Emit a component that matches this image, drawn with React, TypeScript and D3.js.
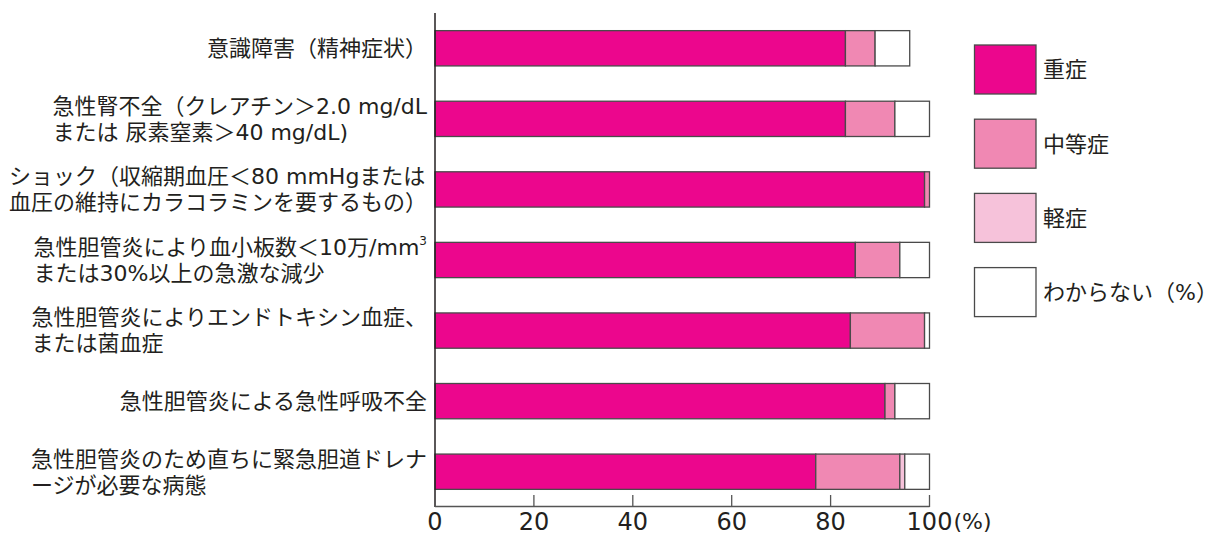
import React, { useEffect, useRef } from "react";
import * as d3 from "d3";

// Items (each label line list), top to bottom
const categories: string[][] = [
  ["意識障害（精神症状）"],
  ["急性腎不全（クレアチン＞2.0 mg/dL", "または 尿素窒素＞40 mg/dL)"],
  ["ショック（収縮期血圧＜80 mmHgまたは", "血圧の維持にカラコラミンを要するもの）"],
  ["急性胆管炎により血小板数＜10万/mm^3", "または30%以上の急激な減少"],
  ["急性胆管炎によりエンドトキシン血症、", "または菌血症"],
  ["急性胆管炎による急性呼吸不全"],
  ["急性胆管炎のため直ちに緊急胆道ドレナ", "ージが必要な病態"],
];

const severe = [83, 83, 99, 85, 84, 91, 77];
const moderate = [6, 10, 1, 9, 15, 2, 17];
const mild = [0, 0, 0, 0, 0, 0, 1];
const unknown = [7, 7, 0, 6, 1, 7, 5];

const seriesKeys = ["severe", "moderate", "mild", "unknown"];
const seriesNames = ["重症", "中等症", "軽症", "わからない（%）"];
const seriesColors = ["#ec068d", "#f088b3", "#f6c2da", "#ffffff"];

const xTicks = [0, 20, 40, 60, 80, 100];

const W = 1212;
const H = 533;
// Latin glyphs from DejaVu Sans, Japanese from Noto Sans CJK JP
const FONT = "'DejaVu Sans', 'Noto Sans CJK JP', sans-serif";
const FONT_JP = "'Noto Sans CJK JP', 'Noto Sans', sans-serif";
const INK = "#231f20";

export default function App() {
  const ref = useRef<SVGSVGElement>(null);

  useEffect(() => {
    const svg = d3.select(ref.current);
    svg.selectAll("*").remove();

    const x = d3.scaleLinear().domain([0, 100]).range([435, 929.5]);
    const y = d3
      .scaleBand<number>()
      .domain(d3.range(categories.length))
      .range([13, 507])
      .paddingInner(0.5)
      .paddingOuter(0.25);

    const rows = categories.map((_, i) => ({
      severe: severe[i],
      moderate: moderate[i],
      mild: mild[i],
      unknown: unknown[i],
    }));
    const stacked = d3.stack<any>().keys(seriesKeys)(rows);

    // stacked bars
    stacked.forEach((layer, k) => {
      svg
        .append("g")
        .selectAll("rect")
        .data(layer.map((d, i) => ({ d, i })).filter((o) => o.d[1] - o.d[0] > 0))
        .join("rect")
        .attr("x", (o) => x(o.d[0]))
        .attr("width", (o) => x(o.d[1]) - x(o.d[0]))
        .attr("y", (o) => y(o.i)!)
        .attr("height", y.bandwidth())
        .attr("fill", seriesColors[k])
        .attr("stroke", "#4a4a4a")
        .attr("stroke-width", 1.3);
    });

    // axes
    svg
      .append("line")
      .attr("x1", x(0))
      .attr("x2", x(0))
      .attr("y1", 13)
      .attr("y2", 507)
      .attr("stroke", INK)
      .attr("stroke-width", 1.5);
    svg
      .append("line")
      .attr("x1", x(0))
      .attr("x2", x(100))
      .attr("y1", 506.5)
      .attr("y2", 506.5)
      .attr("stroke", "#555")
      .attr("stroke-width", 1.3);
    svg
      .append("g")
      .selectAll("line")
      .data(xTicks.filter((t) => t > 0))
      .join("line")
      .attr("x1", (t) => x(t))
      .attr("x2", (t) => x(t))
      .attr("y1", 495)
      .attr("y2", 507)
      .attr("stroke", "#555")
      .attr("stroke-width", 1.3);

    // tick labels
    xTicks.forEach((t) => {
      const txt = svg
        .append("text")
        .attr("y", 530)
        .attr("font-family", FONT)
        .attr("font-size", 24)
        .attr("fill", INK)
        .text(String(t));
      const w = (txt.node() as SVGTextElement).getComputedTextLength();
      txt.attr("x", x(t) - w / 2);
      if (t === 100) {
        svg
          .append("text")
          .attr("x", x(t) + w / 2 + 1)
          .attr("y", 529)
          .attr("font-family", FONT)
          .attr("font-size", 22)
          .attr("fill", INK)
          .text("(%)");
      }
    });

    // category labels: left-aligned block, longest line ending near the axis
    const lineGap = 26;
    categories.forEach((lines, i) => {
      const cy = y(i)! + y.bandwidth() / 2;
      const g = svg.append("g");
      const nodes = lines.map((ln, j) => {
        const t = g
          .append("text")
          .attr("y", cy + (j - (lines.length - 1) / 2) * lineGap)
          .attr("dy", "0.36em")
          .attr("font-family", FONT)
          .attr("font-size", 22)
          .attr("fill", INK);
        const parts = ln.split("^");
        t.append("tspan").text(parts[0]);
        if (parts[1]) {
          t.append("tspan")
            .attr("font-size", 12)
            .attr("dy", "-0.8em")
            .text(parts[1]);
        }
        return t;
      });
      const maxW = d3.max(nodes, (t) => (t.node() as SVGTextElement).getComputedTextLength())!;
      const left = 427 - maxW;
      nodes.forEach((t) => t.attr("x", left));
    });

    // legend
    const lg = svg.append("g");
    seriesNames.forEach((name, k) => {
      const top = 45 + k * 74.2;
      lg.append("rect")
        .attr("x", 974.5)
        .attr("y", top)
        .attr("width", 61.5)
        .attr("height", 49)
        .attr("fill", seriesColors[k])
        .attr("stroke", "#4a4a4a")
        .attr("stroke-width", 1.3);
      lg.append("text")
        .attr("x", 1043)
        .attr("y", top + 24.5)
        .attr("dy", "0.36em")
        .attr("font-family", k === 3 ? FONT : FONT_JP)
        .attr("font-size", 22)
        .attr("fill", INK)
        .text(name);
    });
  }, []);

  return (
    <svg
      ref={ref}
      width={W}
      height={H}
      style={{ position: "absolute", left: 0, top: 0, background: "#fff" }}
    />
  );
}
